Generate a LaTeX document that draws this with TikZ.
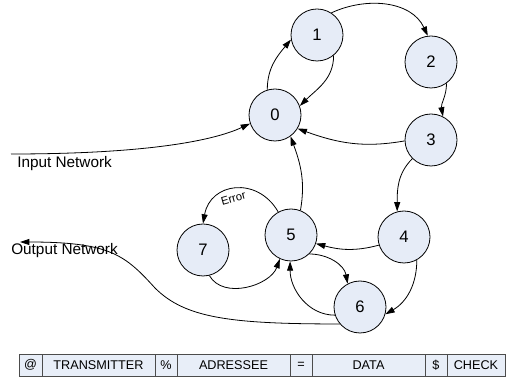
\documentclass[tikz,border=0pt]{standalone}
\usepackage{fontspec}
\setmainfont{Liberation Sans}
\usetikzlibrary{arrows.meta}
\definecolor{statefill}{RGB}{230,236,247}
\definecolor{cellfill}{RGB}{232,238,248}

\begin{document}
\begin{tikzpicture}[x=0.75pt, y=-0.75pt,
        state/.style={circle, draw, line width=0.6pt, fill=statefill, minimum size=39pt, inner sep=0pt, font=\fontsize{12.5}{14}\selectfont},
        link/.style={-{Triangle[length=7pt,width=4.5pt]}, line width=0.6pt},
        netlabel/.style={anchor=west, inner sep=0pt, font=\fontsize{11.5}{13}\selectfont},
        cell/.style={draw=black!70, line width=0.6pt, fill=cellfill, minimum height=16.5pt, inner sep=0pt, font=\fontsize{9.5}{11}\selectfont}]
    \useasboundingbox (0,0) rectangle (507,377);

    % Stati
    \node[state] (n0) at (275,115) {0};
    \node[state] (n1) at (317,35) {1};
    \node[state] (n2) at (431,62) {2};
    \node[state] (n3) at (431,140) {3};
    \node[state] (n4) at (404,237) {4};
    \node[state] (n5) at (291,235) {5};
    \node[state] (n6) at (360,307) {6};
    \node[state] (n7) at (203,250) {7};

    % Ingresso e uscita
    \coordinate (innet) at (11,154);
    \coordinate (outnet) at (20,242);
    \node[netlabel] (inlbl) at (17,164) {Input Network};
    \node[netlabel] (outlbl) at (11,251) {Output Network};
    \draw[link] (innet) .. controls (150,154) and (215,140) .. (n0.199);
    \draw[link] (n6.220) .. controls (230,324) and (185,318) .. (155,288) .. controls (125,255) and (110,242) .. (outnet);

    % Transizioni
    \draw[link] (n0.107) to[out=90, in=230] (n1.190);
    \draw[link] (n1.309) to[out=270, in=45] (n0.20);
    \draw[link] (n1.57) to[out=25, in=115] (n2.97);
    \draw[link] (n2.306) to[out=270, in=100] (n3.63);
    \draw[link] (n3.182) to[out=190, in=-20] (n0.329);
    \draw[link] (n3.225) to[out=225, in=90] (n4.105);
    \draw[link] (n5.69) to[out=80, in=290] (n0.306);
    \draw[link] (n4.198) to[out=195, in=-15] (n5.341);
    \draw[link] (n5.119) to[out=120, in=80, looseness=1.4] node[pos=0.55, below, sloped, font=\fontsize{8.5}{10}\selectfont] {Error} (n7.90);
    \draw[link] (n7.284) to[out=-60, in=250] (n5.245);
    \draw[link] (n5.314) to[out=0, in=100] (n6.118);
    \draw[link] (n6.198) to[out=180, in=270] (n5.268);
    \draw[link] (n4.299) to[out=270, in=30] (n6.344);

    % Trama
    \node[cell, minimum width=17.25pt] (c1) at (30.5,365) {@};
    \node[cell, minimum width=84.75pt] (c2) at (98.5,365) {TRANSMITTER};
    \node[cell, minimum width=16.5pt] (c3) at (166,365) {\%};
    \node[cell, minimum width=84.75pt] (c4) at (233.5,365) {ADRESSEE};
    \node[cell, minimum width=16.5pt] (c5) at (301,365) {=};
    \node[cell, minimum width=84.75pt] (c6) at (368.5,365) {DATA};
    \node[cell, minimum width=16.5pt] (c7) at (436,365) {\$};
    \node[cell, minimum width=43.5pt] (c8) at (476,365) {CHECK};

\end{tikzpicture}
\end{document}
